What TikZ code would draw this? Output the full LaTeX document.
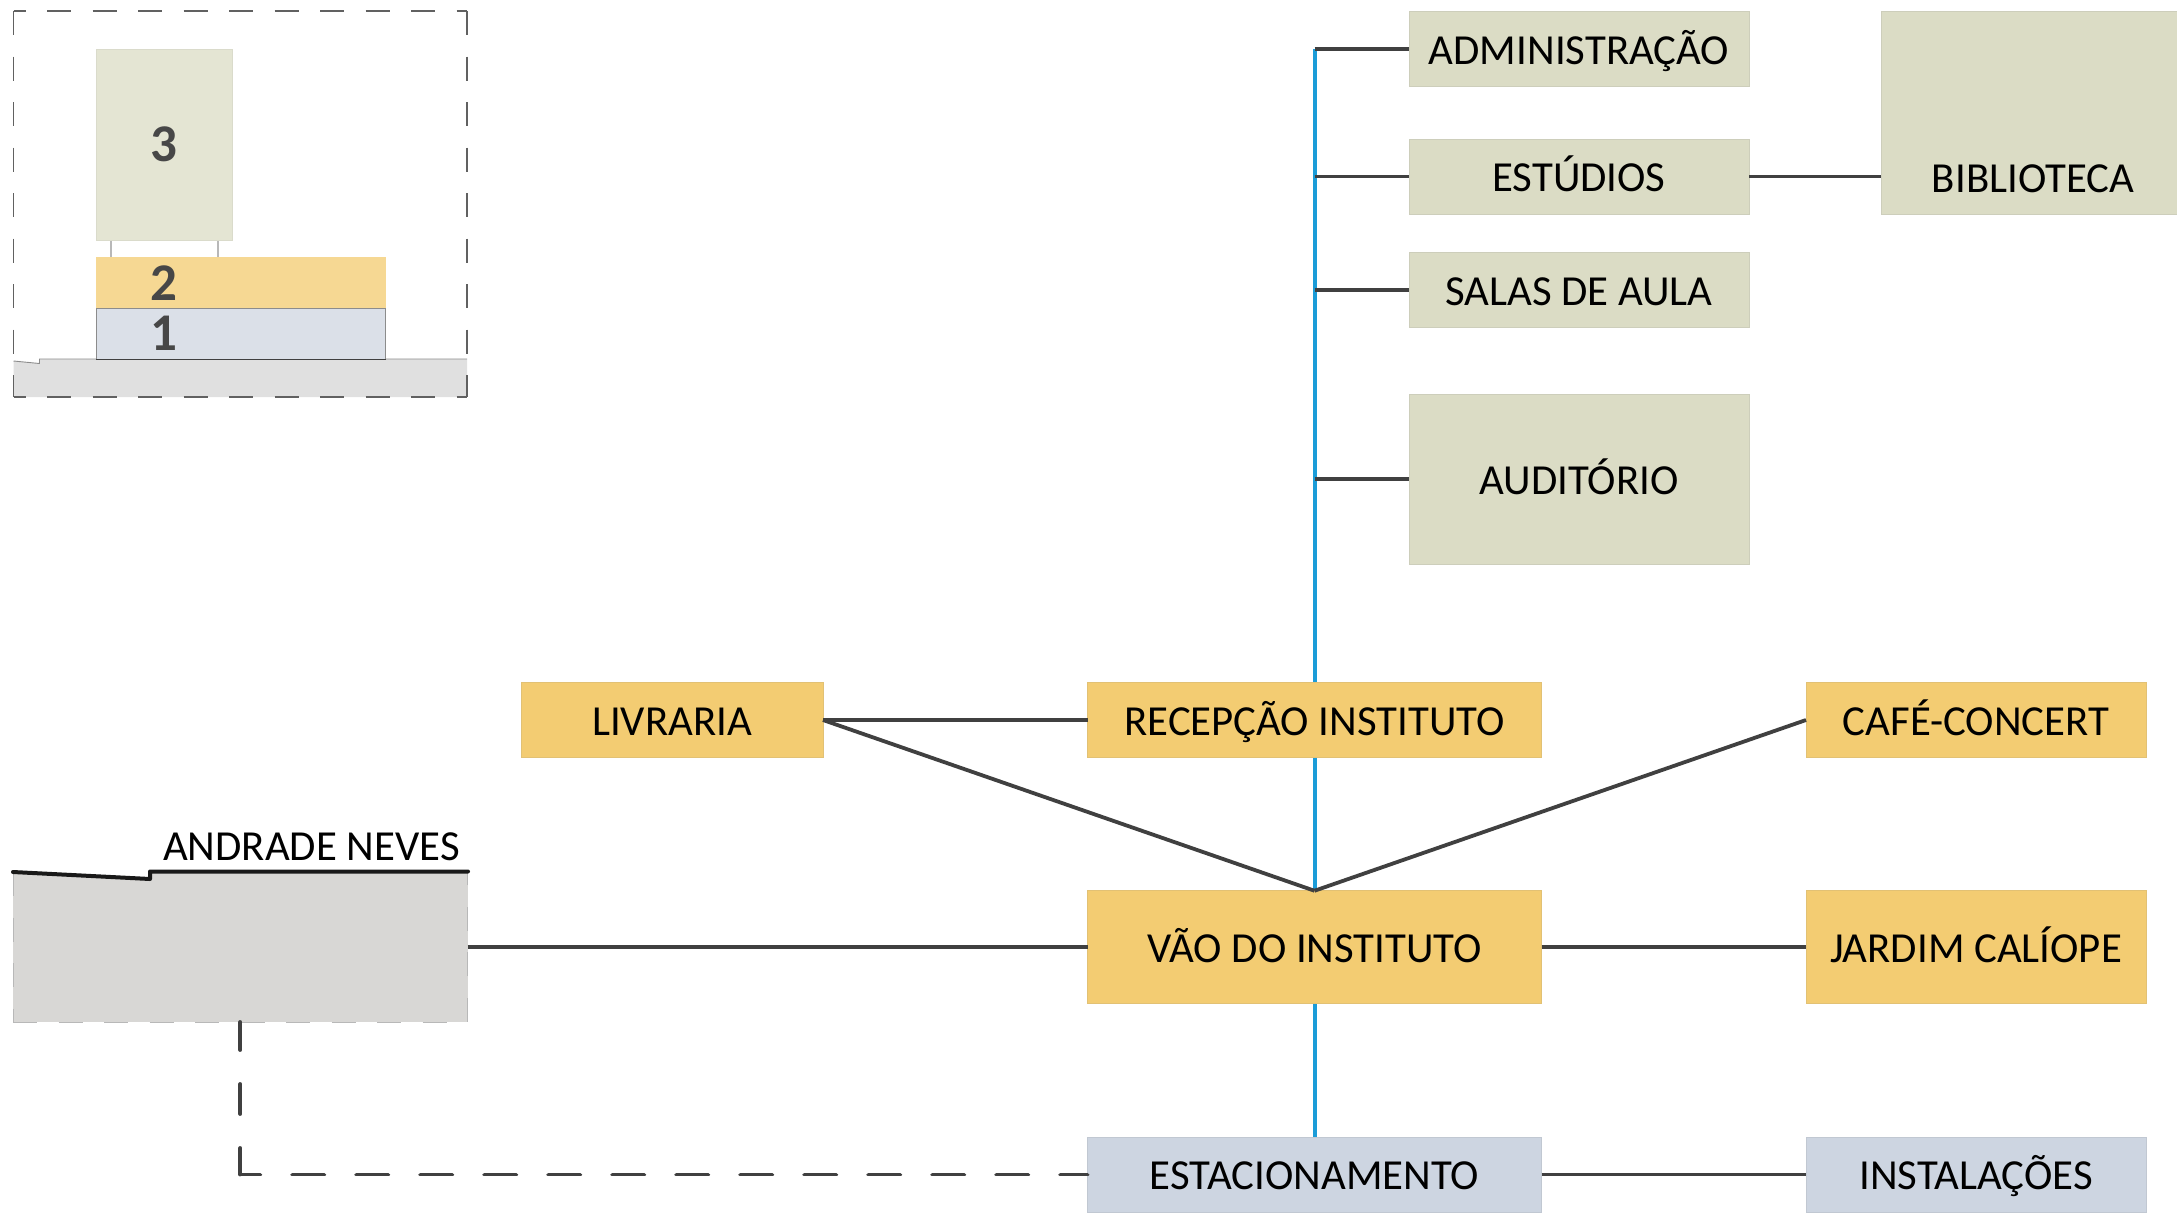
\documentclass[tikz,border=0pt]{standalone}
\usepackage{fontspec}
\setmainfont{Carlito}
\usetikzlibrary{backgrounds,calc}
\definecolor{olive}{HTML}{DBDCC5}
\definecolor{ochre}{HTML}{F3CC72}
\definecolor{steel}{HTML}{CDD5E1}
\definecolor{olivelt}{HTML}{E4E5D3}
\definecolor{ochrelt}{HTML}{F6D893}
\definecolor{steellt}{HTML}{DBE0E8}
\definecolor{groundlt}{HTML}{E0E0E0}
\definecolor{ground}{HTML}{D8D7D5}
\definecolor{link}{HTML}{404040}
\definecolor{spine}{HTML}{1B9CD8}
\tikzset{
  room/.style={draw=#1!85!gray,line width=0.7pt,fill=#1,inner sep=0pt,outer sep=0pt,
    font=\fontsize{42.8}{43}\selectfont,text=black,text height=30pt,text depth=0pt},
  wide/.style={minimum width=454pt},
  side/.style={minimum width=340pt},
  short/.style={minimum height=75pt},
  tall/.style={minimum height=112.5pt},
  conn/.style={draw=link,line width=3.8pt},
  spineline/.style={draw=spine,line width=4pt},
  num/.style={font=\fontsize{53}{53}\selectfont\bfseries,text=black!72,inner sep=0pt,text height=33pt,text depth=0pt},
  framedash/.style={draw=black!62,line width=1.4pt},
  solidbox/.style={inner sep=0pt,outer sep=0pt}
}
\begin{document}
\begin{tikzpicture}[x=1pt,y=-1pt]
\useasboundingbox (0,0) rectangle (2177,1213);
% section key, top left
\fill[groundlt] (13.5,361) -- (39.5,363.5) -- (39.5,359) -- (467,359) -- (467,397) -- (13.5,397) -- cycle;
\draw[black!45,line width=0.9pt] (13.5,361) -- (39.5,363.5) -- (39.5,359) -- (467,359);
\draw[black!28,line width=1.5pt] (111,240) -- (111,257) (218,240) -- (218,257);
\node[solidbox,anchor=north west,minimum width=136.5pt,minimum height=191pt,fill=olivelt,draw=olivelt!90!gray,line width=0.7pt] (k3) at (96,49) {};
\node[solidbox,anchor=north west,minimum width=289.5pt,minimum height=51pt,fill=ochrelt] (k2) at (96,257) {};
\node[solidbox,anchor=north west,minimum width=289.5pt,minimum height=51pt,fill=steellt,draw=black!45,line width=0.9pt] (k1) at (96,308) {};
\draw[black!75,line width=0.9pt] (k1.south west) -- (k1.south east);
\node[num] at (164,145) {3};
\node[num] at (164,284) {2};
\node[num] at (164,334) {1};
\draw[framedash,dash pattern=on 24pt off 21.5pt,dash phase=12pt] (13.5,11) -- (467,11);
\draw[framedash,dash pattern=on 24pt off 21.5pt,dash phase=12pt] (13.5,397) -- (467,397);
\draw[framedash,dash pattern=on 24pt off 21.5pt] (13.5,11) -- (13.5,397);
\draw[framedash,dash pattern=on 24pt off 21.5pt] (467,11) -- (467,397);
% street block
\node[solidbox,anchor=north west,minimum width=454.5pt,minimum height=150pt,fill=ground] (street) at (13,872) {};
\draw[black!28,line width=1pt,dash pattern=on 24pt off 21.5pt] (street.south west) -- (street.south east) -- (street.north east);
\draw[black!28,line width=1pt,dash pattern=on 24pt off 21.5pt] (street.north west) -- (street.south west);
\fill[white] (13,871) -- (150,878) -- (150,871) -- cycle;
\draw[black!90,line width=4pt,line cap=round,line join=round] (13,872) -- (150,879) -- (150,871.5) -- (468,871.5);
\node[font=\fontsize{42.8}{43}\selectfont,text=black,inner sep=0pt,anchor=base] at (311.5,860.5) {ANDRADE NEVES};
% rooms
\node[room=olive,side,short,anchor=west] (adm) at (1409,49) {ADMINISTRAÇÃO};
\node[room=olive,side,short,anchor=west] (est) at (1409,176.5) {ESTÚDIOS};
\node[room=olive,side,short,anchor=west] (sal) at (1409,290) {SALAS DE AULA};
\node[room=olive,side,minimum height=170pt,anchor=west] (aud) at (1409,479) {AUDITÓRIO};
\node[room=olive,solidbox,anchor=north west,minimum width=296pt,minimum height=203pt] (bib) at (1881,11) {};
\node[font=\fontsize{42.8}{43}\selectfont,text=black,inner sep=0pt,text height=30pt,text depth=0pt] at (2033,177) {BIBLIOTECA};
\node[room=ochre,wide,short] (rec) at (1314.5,720) {RECEPÇÃO INSTITUTO};
\node[room=ochre,minimum width=302pt,short] (liv) at (672,720) {LIVRARIA};
\node[room=ochre,side,short,anchor=west] (caf) at (1806,720) {CAFÉ-CONCERT};
\node[room=ochre,wide,tall] (vao) at (1314.5,947) {VÃO DO INSTITUTO};
\node[room=ochre,side,tall,anchor=west] (jar) at (1806,947) {JARDIM CALÍOPE};
\node[room=steel,wide,minimum height=75pt] (esc) at (1314.5,1174.5) {ESTACIONAMENTO};
\node[room=steel,side,minimum height=75pt,anchor=west] (ins) at (1806,1174.5) {INSTALAÇÕES};
% connectors
\coordinate (top) at (rec.north |- adm.west);
\coordinate (bend) at (street.south |- esc.west);
\begin{scope}[on background layer]
\draw[spineline] (top) -- (esc.north);
\end{scope}
\draw[conn] (top) -- (adm.west);
\draw[conn] (rec.north |- est.west) -- (est.west);
\draw[conn] (rec.north |- sal.west) -- (sal.west);
\draw[conn] (rec.north |- aud.west) -- (aud.west);
\draw[conn] (est.east) -- (est.east -| bib.west);
\draw[conn] (liv.east) -- (rec.west);
\draw[conn] (liv.east) -- (vao.north);
\draw[conn] (caf.west) -- (vao.north);
\draw[conn] (street.east) -- (vao.west);
\draw[conn] (vao.east) -- (jar.west);
\draw[conn] (esc.east) -- (ins.west);
\draw[conn,line cap=round,dash pattern=on 30pt off 34pt,dash phase=2pt] (street.south) -- (bend);
\draw[conn,line cap=round,dash pattern=on 32pt off 32pt,dash phase=12pt] (bend) -- (esc.west);
\end{tikzpicture}
\end{document}
